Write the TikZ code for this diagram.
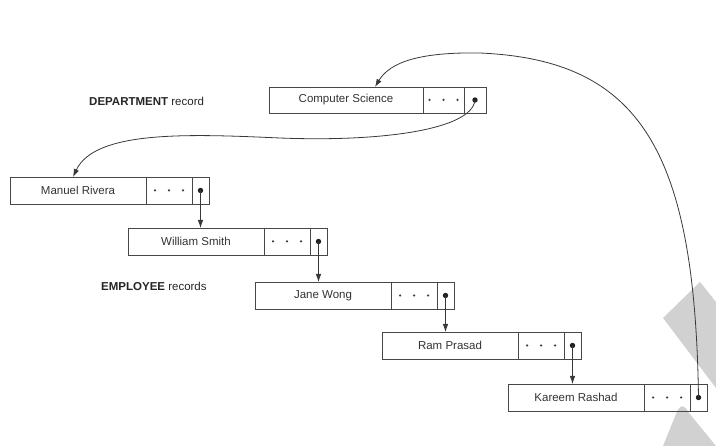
\documentclass[tikz,border=0pt]{standalone}
\usepackage{fontspec}
\setmainfont{Liberation Sans}
\usetikzlibrary{arrows.meta,calc}
\tikzset{
  rec/.style={draw=black!72, line width=0.9pt, minimum height=27pt, inner sep=0pt, outer sep=0pt, anchor=north west, font=\fontsize{11.5}{13}\selectfont, text=black!80},
  namecell/.style={rec, minimum width=136pt},
  dotcell/.style={rec, minimum width=46pt},
  ptrcell/.style={rec, minimum width=17pt},
  ptrdot/.style={circle, fill=black!88, inner sep=0pt, minimum size=5.4pt},
  smalldot/.style={fill=black!75},
  arr/.style={draw=black!78, line width=0.8pt, -{Latex[length=8pt,width=5.5pt]}},
  lbl/.style={anchor=west, inner sep=0pt, font=\fontsize{11.5}{13}\selectfont, text=black!85},
  wm/.style={fill=black!18, draw=none}
}
\begin{document}
\begin{tikzpicture}[x=1pt,y=-1pt]
\useasboundingbox (0,0) rectangle (716,446);
% watermark shapes
\fill[wm] (663,318) -- (700,282) -- (716,302) -- (716,388) -- cycle;
\fill[wm] (663,446) -- (676,414) .. controls (680,404) and (684,404) .. (689,413) -- (716,446) -- cycle;

% labels
\node[lbl] (deplbl) at (89,101) {\textbf{DEPARTMENT} record};
\node[lbl] (emplbl) at (101,286) {\textbf{EMPLOYEE} records};

% department record
\node[rec, minimum width=154pt, minimum height=26pt] (csn) at (269,87) {Computer Science};
\node[rec, minimum width=41pt, minimum height=26pt] (csd) at (423,87) {};
\node[rec, minimum width=22pt, minimum height=26pt] (csp) at (464,87) {};
\node[ptrdot] (csdot) at (csp.center) {};

% employee records
\node[namecell] (mrn) at (10,177) {Manuel Rivera};
\node[dotcell] (mrd) at (146,177) {};
\node[ptrcell] (mrp) at (192,177) {};
\node[ptrdot] (mrdot) at (mrp.center) {};

\node[namecell] (wsn) at (128,228) {William Smith};
\node[dotcell] (wsd) at (264,228) {};
\node[ptrcell] (wsp) at (310,228) {};
\node[ptrdot] (wsdot) at (wsp.center) {};

\node[namecell] (jwn) at (255,282) {Jane Wong};
\node[dotcell] (jwd) at (391,282) {};
\node[ptrcell] (jwp) at (437,282) {};
\node[ptrdot] (jwdot) at (jwp.center) {};

\node[namecell] (rpn) at (382,332) {Ram Prasad};
\node[dotcell] (rpd) at (518,332) {};
\node[ptrcell] (rpp) at (564,332) {};
\node[ptrdot] (rpdot) at (rpp.center) {};

\node[namecell] (krn) at (508,384) {Kareem Rashad};
\node[dotcell] (krd) at (644,384) {};
\node[ptrcell] (krp) at (690,384) {};
\node[ptrdot] (krdot) at (krp.center) {};

% the three dots of each "..." field
\foreach \c in {csd,mrd,wsd,jwd,rpd,krd}
  \foreach \dx in {-14,0,14}
    \fill[smalldot] ([xshift=\dx pt]\c.center) circle (1.25pt);

% targets of curved pointers
\coordinate (mrin) at ([xshift=63pt]mrn.north west);
\coordinate (csin) at ([xshift=106pt]csn.north west);

% connectors
\draw[arr] (mrdot.center) -- (mrdot.center |- wsn.north);
\draw[arr] (wsdot.center) -- (wsdot.center |- jwn.north);
\draw[arr] (jwdot.center) -- (jwdot.center |- rpn.north);
\draw[arr] (rpdot.center) -- (rpdot.center |- krn.north);

\draw[arr] (csdot.center) .. controls (472,130) and (380,142) .. (280,138)
  .. controls (190,134) and (95,130) .. (mrin);
\draw[arr] (krdot.center) .. controls (695,150) and (640,60) .. (480,53)
  .. controls (420,52) and (390,62) .. (csin);
\end{tikzpicture}
\end{document}
